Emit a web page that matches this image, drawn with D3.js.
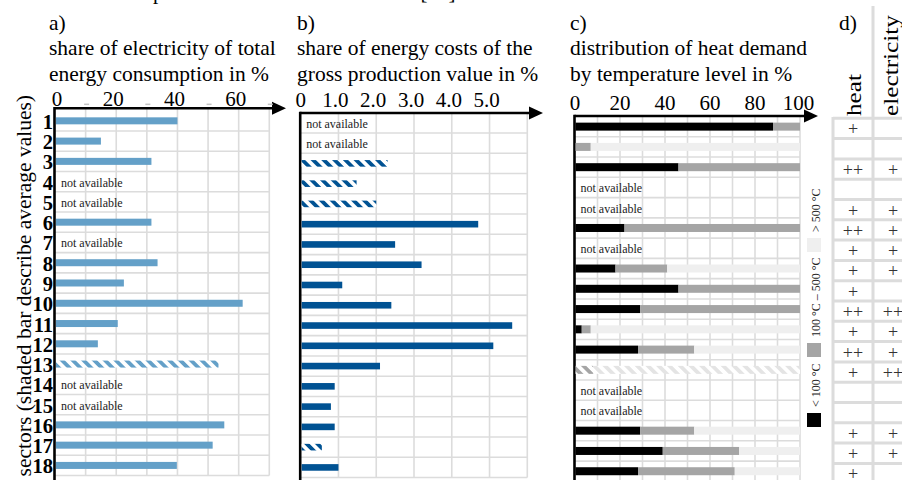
<!DOCTYPE html>
<html>
<head>
<meta charset="utf-8">
<script src="https://cdn.jsdelivr.net/npm/d3@7"></script>
<style>
body{margin:0;background:#fff;}
svg{display:block;font-family:"Liberation Serif","Times New Roman",serif;}
</style>
</head>
<body>
<div id="chart"></div>
<script>
// sectors 1..18, null = not available
const sectors = ['1','2','3','4','5','6','7','8','9','10','11','12','13','14','15','16','17','18'];

// a) share of electricity of total energy consumption in %
const elecShare = [40, 15, 31.5, null, null, 31.5, null, 33.5, 22.5, 61.3, 20.5, 14, 53.4, null, null, 55.3, 51.5, 39.8];
const elecAvg = ['13'];
const elecTicks = [0, 20, 40, 60];
const elecMinor = [10, 30, 50, 70];

// b) share of energy costs of the gross production value in %
const costShare = [null, null, 2.3, 1.48, 2.0, 4.7, 2.5, 3.2, 1.1, 2.4, 5.6, 5.1, 2.1, 0.9, 0.8, 0.9, 0.56, 1.0];
const costAvg = ['3', '4', '5', '17'];
const costTicks = [0, 1, 2, 3, 4, 5];
const costTickLabels = ['0', '1.0', '2.0', '3.0', '4.0', '5.0'];

// c) distribution of heat demand by temperature level in %
const tempLow = [88, 0, 46, null, null, 22, null, 18, 46, 29, 3, 28, 0, null, null, 29, 39, 28];
const tempMid = [12, 7, 54, null, null, 78, null, 23, 54, 71, 4, 25, 8, null, null, 24, 34, 43];
const tempHigh = [0, 93, 0, null, null, 0, null, 59, 0, 0, 93, 47, 92, null, null, 47, 27, 29];
const tempAvg = ['13'];
const tempTicks = [0, 20, 40, 60, 80, 100];
const tempKeys = ['low', 'mid', 'high'];
const tempNames = ['< 100 °C', '100 °C – 500 °C', '> 500 °C'];

// d) heat / electricity
const heatRating = ['+', '', '++', '', '+', '++', '+', '+', '+', '++', '+', '++', '+', '', '', '+', '+', '+'];
const elecRating = ['', '', '+', '', '+', '+', '+', '+', '', '++', '+', '+', '++', '', '', '+', '+', ''];

const colA = '#64a0c8';
const colB = '#005293';
const colC = {low: '#000000', mid: '#a5a5a5', high: '#efefef'};
const gridCol = '#dcdcdc';
const w = 902, h = 480;
const rowStep = 20.27;

const svg = d3.select('#chart').append('svg').attr('width', w).attr('height', h);
const defs = svg.append('defs');

function hatch(id, col) {
  const p = defs.append('pattern')
    .attr('id', id)
    .attr('patternUnits', 'userSpaceOnUse')
    .attr('width', 7.6).attr('height', 7.6)
    .attr('patternTransform', 'rotate(-45)');
  p.append('rect').attr('width', 7.6).attr('height', 7.6).attr('fill', '#fff');
  p.append('rect').attr('width', 3.8).attr('height', 7.6).attr('fill', col);
}
hatch('hatchA', colA);
hatch('hatchB', colB);
hatch('hatchMid', colC.mid);
hatch('hatchHigh', '#e4e4e4');

// clipped caption line at the very top
svg.append('text').attr('x', 2.5).attr('y', -1.5).attr('font-size', 21)
  .text('based on the heat profiles and the electrical loads [14].');

function rows(top) {
  return d3.scaleBand().domain(sectors).range([top, top + sectors.length * rowStep]);
}

function frame(x, y, gridVals, axisY, tip) {
  const g = svg.append('g');
  const yEnd = y.range()[1];
  g.selectAll(null).data(gridVals.filter(v => v > 0)).join('line')
    .attr('x1', d => x(d)).attr('x2', d => x(d))
    .attr('y1', axisY).attr('y2', yEnd)
    .attr('stroke', gridCol).attr('stroke-width', 1.6);
  g.selectAll(null).data(sectors.slice(1).map(s => y(s)).concat([yEnd])).join('line')
    .attr('x1', x.range()[0]).attr('x2', x.range()[1])
    .attr('y1', d => d).attr('y2', d => d)
    .attr('stroke', gridCol).attr('stroke-width', 1.6);
  const x0 = x.range()[0] - 0.5;
  g.append('line').attr('x1', x0).attr('x2', x0).attr('y1', axisY - 1.3).attr('y2', h)
    .attr('stroke', '#000').attr('stroke-width', 2.6);
  g.append('line').attr('x1', x0).attr('x2', tip - 13).attr('y1', axisY).attr('y2', axisY)
    .attr('stroke', '#000').attr('stroke-width', 2.6);
  g.append('path')
    .attr('d', `M${tip - 14},${axisY - 6.5}L${tip},${axisY}L${tip - 14},${axisY + 6.5}Z`)
    .attr('fill', '#000');
}

function title(x, lines) {
  const t = svg.append('text').attr('font-size', 21.5);
  [29.5, 54.5, 80.5].forEach((yy, i) => {
    t.append('tspan').attr('x', x).attr('y', yy).text(lines[i]);
  });
}

function notAvailable(x, y, vals, dx) {
  svg.append('g').selectAll('text')
    .data(sectors.filter((s, i) => vals[i] == null))
    .join('text')
    .attr('x', x(0) + dx)
    .attr('y', d => y(d) + y.bandwidth() / 2 + 5)
    .attr('font-size', 12).attr('fill', '#222')
    .text('not available');
}

// ---------- panel a ----------
const xa = d3.scaleLinear().domain([0, 70]).range([55, 269.3]);
const ya = rows(110.7);
title(49, ['a)', 'share of electricity of total', 'energy consumption in %']);
frame(xa, ya, d3.range(0, 71, 10), 108.3, 286);
svg.append('g').selectAll('text').data(elecTicks).join('text')
  .attr('x', d => xa(d) + (d === 0 ? 2 : -3)).attr('y', 106)
  .attr('text-anchor', 'middle').attr('font-size', 21)
  .text(d => d);
svg.append('g').selectAll('line').data(elecMinor).join('line')
  .attr('x1', d => xa(d) - 1.5).attr('x2', d => xa(d) + 3.5)
  .attr('y1', 104.3).attr('y2', 104.3)
  .attr('stroke', '#c4c4c4').attr('stroke-width', 1.5);
svg.append('g').selectAll('rect')
  .data(sectors.map((s, i) => ({s, v: elecShare[i]})).filter(d => d.v != null))
  .join('rect')
  .attr('x', xa(0) + 1)
  .attr('y', d => ya(d.s) + ya.bandwidth() / 2 - 3.5)
  .attr('width', d => xa(d.v) - xa(0) - 1)
  .attr('height', 7)
  .attr('fill', d => elecAvg.includes(d.s) ? 'url(#hatchA)' : colA);
notAvailable(xa, ya, elecShare, 6);
svg.append('g').selectAll('text').data(sectors).join('text')
  .attr('x', 53).attr('y', d => ya(d) + ya.bandwidth() / 2 + 8)
  .attr('text-anchor', 'end').attr('font-size', 20.5).attr('font-weight', 'bold')
  .text(d => d);
svg.append('text')
  .attr('transform', 'translate(30.5,95) rotate(-90)')
  .attr('text-anchor', 'end').attr('font-size', 21.5)
  .text('sectors (shaded bar describe average values)');

// ---------- panel b ----------
const xb = d3.scaleLinear().domain([0, 6]).range([300.7, 527.3]);
const yb = rows(112.7);
title(297, ['b)', 'share of energy costs of the', 'gross production value in %']);
frame(xb, yb, d3.range(0, 7), 113, 543);
svg.append('g').selectAll('text').data(costTicks).join('text')
  .attr('x', d => xb(d) - (d > 0 ? 3 : 0)).attr('y', 106.5)
  .attr('text-anchor', 'middle').attr('font-size', 21)
  .text((d, i) => costTickLabels[i]);
svg.append('g').selectAll('rect')
  .data(sectors.map((s, i) => ({s, v: costShare[i]})).filter(d => d.v != null))
  .join('rect')
  .attr('x', xb(0) + 1)
  .attr('y', d => yb(d.s) + yb.bandwidth() / 2 - 3.3)
  .attr('width', d => xb(d.v) - xb(0) - 1)
  .attr('height', 6.6)
  .attr('fill', d => costAvg.includes(d.s) ? 'url(#hatchB)' : colB);
notAvailable(xb, yb, costShare, 5.5);

// ---------- panel c ----------
const xc = d3.scaleLinear().domain([0, 100]).range([575, 800]);
const yc = rows(116.5);
title(570, ['c)', 'distribution of heat demand', 'by temperature level in %']);
frame(xc, yc, d3.range(0, 101, 10), 116, 818);
svg.append('g').selectAll('text').data(tempTicks).join('text')
  .attr('x', d => xc(d) - (d === 100 ? 1.5 : 0)).attr('y', 110)
  .attr('text-anchor', 'middle').attr('font-size', 21)
  .text(d => d);
const tempRows = sectors.map((s, i) => ({s, low: tempLow[i], mid: tempMid[i], high: tempHigh[i]}))
  .filter(d => d.low != null);
const stacked = d3.stack().keys(tempKeys)(tempRows);
svg.append('g').selectAll('g').data(stacked).join('g')
  .selectAll('rect')
  .data(layer => layer.map(seg => ({key: layer.key, s: seg.data.s, a: seg[0], b: seg[1]})))
  .join('rect')
  .filter(d => d.b > d.a)
  .attr('x', d => xc(d.a) + (d.a === 0 ? 0.5 : 0))
  .attr('y', d => yc(d.s) + yc.bandwidth() / 2 - 4)
  .attr('width', d => xc(d.b) - xc(d.a) - (d.a === 0 ? 0.5 : 0))
  .attr('height', 8)
  .attr('fill', d => {
    if (tempAvg.includes(d.s)) return d.key === 'mid' ? 'url(#hatchMid)' : d.key === 'high' ? 'url(#hatchHigh)' : colC.low;
    return colC[d.key];
  });
notAvailable(xc, yc, tempLow, 5.5);

// legend (rotated)
const legY = [413, 343, 238];
const legend = svg.append('g');
tempKeys.forEach((k, i) => {
  legend.append('rect').attr('x', 807).attr('y', legY[i]).attr('width', 14).attr('height', 14)
    .attr('fill', colC[k]);
  legend.append('text')
    .attr('transform', `translate(819.5,${legY[i] - 6}) rotate(-90)`)
    .attr('font-size', 12).attr('fill', '#222')
    .text(tempNames[i]);
});

// ---------- panel d ----------
const yd = d3.scaleBand().domain(sectors).range([118.3, 118.3 + sectors.length * 20.3]);
const td = svg.append('g');
td.selectAll('line.h').data(sectors.map(s => yd(s)).concat([yd.range()[1]])).join('line')
  .attr('class', 'h')
  .attr('x1', 833).attr('x2', w)
  .attr('y1', d => d).attr('y2', d => d)
  .attr('stroke', gridCol).attr('stroke-width', 3);
td.append('line').attr('x1', 833).attr('x2', 833).attr('y1', 117).attr('y2', h)
  .attr('stroke', gridCol).attr('stroke-width', 3);
td.append('line').attr('x1', 873).attr('x2', 873).attr('y1', 6).attr('y2', h)
  .attr('stroke', gridCol).attr('stroke-width', 3);
td.append('text').attr('x', 839).attr('y', 30).attr('font-size', 21.5).text('d)');
td.append('text').attr('transform', 'translate(861,116) rotate(-90)')
  .attr('font-size', 21).attr('textLength', 42).attr('lengthAdjust', 'spacingAndGlyphs').text('heat');
td.append('text').attr('transform', 'translate(898,116) rotate(-90)')
  .attr('font-size', 21).attr('textLength', 101).attr('lengthAdjust', 'spacingAndGlyphs').text('electricity');
td.selectAll('text.hr').data(sectors).join('text')
  .attr('class', 'hr')
  .attr('x', 853).attr('y', d => yd(d) + 17)
  .attr('text-anchor', 'middle').attr('font-size', 18).attr('fill', '#333')
  .text((d, i) => heatRating[i]);
td.selectAll('text.er').data(sectors).join('text')
  .attr('class', 'er')
  .attr('x', 893).attr('y', d => yd(d) + 17)
  .attr('text-anchor', 'middle').attr('font-size', 18).attr('fill', '#333')
  .text((d, i) => elecRating[i]);
</script>
</body>
</html>
